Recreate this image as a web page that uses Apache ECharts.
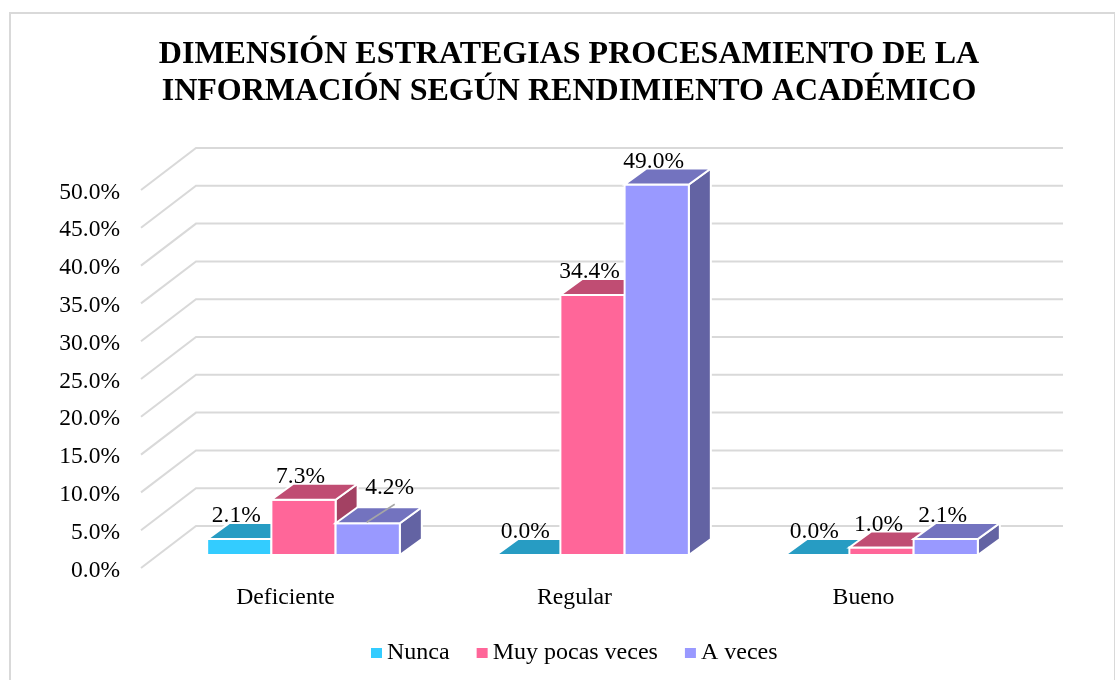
<!DOCTYPE html>
<html><head><meta charset="utf-8">
<style>html,body{margin:0;padding:0;background:#fff}#c{width:1115px;height:680px}</style>
<script src="https://cdn.jsdelivr.net/npm/echarts@6/dist/echarts.min.js"></script>
</head><body><div id="c"></div>
<script>
const titleText = 'DIMENSIÓN ESTRATEGIAS PROCESAMIENTO DE LA\nINFORMACIÓN SEGÚN RENDIMIENTO ACADÉMICO';
const categories = ['Deficiente', 'Regular', 'Bueno'];
const nunca = [2.1, 0.0, 0.0];
const muyPocasVeces = [7.3, 34.4, 1.0];
const aVeces = [4.2, 49.0, 2.1];
const wallTicks = [0, 5, 10, 15, 20, 25, 30, 35, 40, 45, 50];

const FONT = '"Liberation Serif","Times New Roman",serif';
const WALL = [55, -42], FLOOR = [18, -13], DEPTH = [22, -16];
const chart = echarts.init(document.getElementById('c'), null, {renderer: 'canvas'});

function wallItem(params, api) {
  const y = api.coord([0, api.value(0)])[1], cs = params.coordSys;
  return {type: 'polyline', silent: true,
    shape: {points: [[cs.x, y], [cs.x + WALL[0], y + WALL[1]], [cs.x + cs.width + WALL[0], y + WALL[1]]]},
    style: {fill: null, stroke: '#d9d9d9', lineWidth: 2}};
}
function barRenderer(slot, front, top, side) {
  return function (params, api) {
    const cat = api.value(0), val = api.value(1);
    const c = api.coord([cat, val]), b = api.coord([cat, 0]);
    const w = api.size([1, 0])[0] / 4.5;
    const x0 = c[0] - 1.5 * w + slot * w + FLOOR[0], x1 = x0 + w;
    const yB = b[1] + FLOOR[1], yT = c[1] + FLOOR[1];
    const dx = DEPTH[0], dy = DEPTH[1];
    const st = {stroke: '#fff', lineWidth: 2, lineJoin: 'miter'};
    const children = [];
    if (val > 0) {
      children.push({type: 'polygon', shape: {points: [[x1, yT], [x1 + dx, yT + dy], [x1 + dx, yB + dy], [x1, yB]]}, style: {...st, fill: side}});
      children.push({type: 'polygon', shape: {points: [[x0, yB], [x1, yB], [x1, yT], [x0, yT]]}, style: {...st, fill: front}});
    }
    children.push({type: 'polygon', shape: {points: [[x0, yT], [x1, yT], [x1 + dx, yT + dy], [x0 + dx, yT + dy]]}, style: {...st, fill: top}});
    const cx = (x0 + x1) / 2;
    const moved = slot === 2 && cat === 0;
    if (moved) children.push({type: 'line', shape: {x1: cx - 1, y1: yT - 1, x2: cx + 27, y2: yT - 19}, style: {stroke: '#a6a6a6', lineWidth: 1.5}});
    children.push({type: 'text', z2: 50, style: {
      text: val.toFixed(1) + '%', x: cx - 3 + (moved ? 25 : 0), y: yT - 23 + (moved ? -12 : 0),
      align: 'center', verticalAlign: 'middle', font: '23.5px ' + FONT, fill: '#000'}});
    return {type: 'group', children};
  };
}
function barSeries(name, values, slot, front, top, side) {
  return {type: 'custom', name, coordinateSystem: 'cartesian2d', z: 5 + slot,
    itemStyle: {color: front}, silent: true, clip: false,
    encode: {x: 0, y: 1},
    data: values.map((v, i) => [i, v]),
    renderItem: barRenderer(slot, front, top, side)};
}
chart.setOption({
  animation: false,
  backgroundColor: '#fff',
  title: {text: titleText, left: 564, top: 31, textAlign: 'center',
    textStyle: {fontFamily: FONT, fontWeight: 'bold', fontSize: 32, lineHeight: 37, color: '#000'}},
  legend: {left: 366, top: 636, itemGap: 27, itemWidth: 11, itemHeight: 10, icon: 'rect',
    selectedMode: false, data: ['Nunca', 'Muy pocas veces', 'A veces'],
    textStyle: {fontFamily: FONT, fontSize: 24, color: '#000'}},
  grid: {left: 141, top: 190, width: 867, height: 378, containLabel: false},
  xAxis: {type: 'category', data: categories, axisLine: {show: false}, axisTick: {show: false},
    axisLabel: {fontFamily: FONT, fontSize: 23.7, color: '#000', margin: 18}, splitLine: {show: false}},
  yAxis: {type: 'value', min: 0, max: 50, interval: 5, axisLine: {show: false}, axisTick: {show: false},
    splitLine: {show: false},
    axisLabel: {color: '#000', margin: 21, formatter: v => '{t|' + v.toFixed(1) + '%}',
      rich: {t: {fontFamily: FONT, fontSize: 23.5, color: '#000', padding: [5, 0, 0, 0]}}}},
  graphic: [{type: 'rect', silent: true, z: -10, shape: {x: 10, y: 13, width: 1105, height: 680},
    style: {fill: 'none', stroke: '#d9d9d9', lineWidth: 2}}],
  series: [
    {type: 'custom', name: 'wall', coordinateSystem: 'cartesian2d', z: 1, silent: true, clip: false,
      data: wallTicks.map(v => [v]), encode: {y: 0}, renderItem: wallItem},
    barSeries('Nunca', nunca, 0, '#33ccff', '#279cc3', '#1f7d9c'),
    barSeries('Muy pocas veces', muyPocasVeces, 1, '#ff6699', '#c04d73', '#a34163'),
    barSeries('A veces', aVeces, 2, '#9999ff', '#7373bf', '#6363a3')
  ]
});
</script></body></html>
